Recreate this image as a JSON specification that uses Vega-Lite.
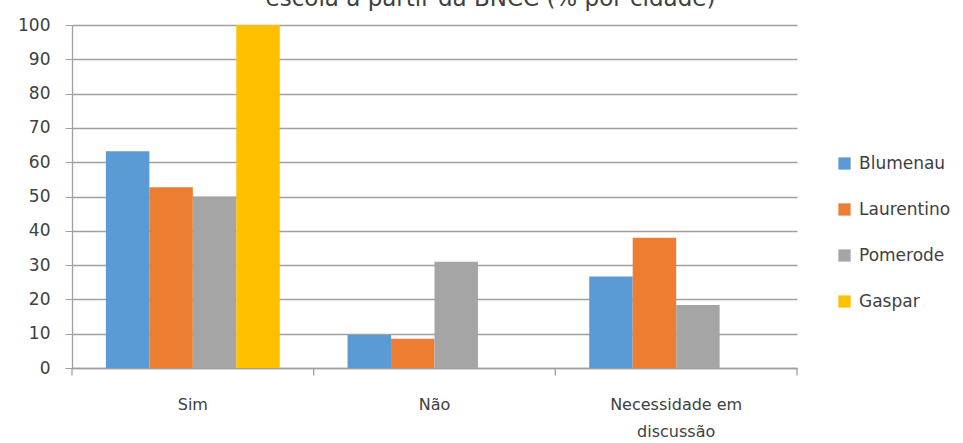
{
  "$schema": "https://vega.github.io/schema/vega-lite/v6.json",
  "width": 725,
  "height": 343,
  "autosize": {"type": "none"},
  "padding": {"left": 72, "top": 25, "right": 166, "bottom": 75},
  "background": "white",
  "title": {
    "text": "escola a partir da BNCC (% por cidade)",
    "fontSize": 23,
    "font": "DejaVu Sans",
    "fontWeight": "normal",
    "color": "#404040",
    "anchor": "middle",
    "offset": 5,
    "dx": 56
  },
  "config": {
    "view": {"stroke": null},
    "font": "DejaVu Sans",
    "axisY": {
      "title": null,
      "tickCount": 11,
      "labelOverlap": false,
      "grid": true,
      "gridColor": "#a0a0a0",
      "gridWidth": 1.3,
      "domainColor": "#a0a0a0",
      "domainWidth": 1.3,
      "tickColor": "#a0a0a0",
      "tickSize": 7,
      "labelPadding": 15,
      "labelFontSize": 17,
      "labelColor": "#404040"
    },
    "axisX": {
      "title": null,
      "ticks": false,
      "grid": false,
      "labelAngle": 0,
      "domainColor": "#a0a0a0",
      "domainWidth": 1.3,
      "labelFontSize": 16,
      "labelColor": "#404040",
      "labelPadding": 28,
      "labelLineHeight": 27
    }
  },
  "datasets": {
    "bars": [
      {"resposta": "Sim", "cidade": "Blumenau", "valor": 63.2},
      {"resposta": "Sim", "cidade": "Laurentino", "valor": 52.7},
      {"resposta": "Sim", "cidade": "Pomerode", "valor": 50},
      {"resposta": "Sim", "cidade": "Gaspar", "valor": 100},
      {"resposta": "Não", "cidade": "Blumenau", "valor": 9.6},
      {"resposta": "Não", "cidade": "Laurentino", "valor": 8.5},
      {"resposta": "Não", "cidade": "Pomerode", "valor": 31},
      {"resposta": "Não", "cidade": "Gaspar", "valor": 0},
      {"resposta": "Necessidade em discussão", "cidade": "Blumenau", "valor": 26.7},
      {"resposta": "Necessidade em discussão", "cidade": "Laurentino", "valor": 38},
      {"resposta": "Necessidade em discussão", "cidade": "Pomerode", "valor": 18.4},
      {"resposta": "Necessidade em discussão", "cidade": "Gaspar", "valor": 0}
    ],
    "ticksStart": [
      {"resposta": "Sim"},
      {"resposta": "Não"},
      {"resposta": "Necessidade em discussão"}
    ],
    "ticksEnd": [
      {"resposta": "Necessidade em discussão"}
    ]
  },
  "layer": [
    {
      "data": {"name": "bars"},
      "mark": {"type": "bar"},
      "encoding": {
        "x": {
          "field": "resposta",
          "type": "nominal",
          "sort": ["Sim", "Não", "Necessidade em discussão"],
          "scale": {"paddingInner": 0, "paddingOuter": 0},
          "axis": {
            "labelExpr": "datum.label == 'Necessidade em discussão' ? ['Necessidade em', 'discussão'] : datum.label"
          }
        },
        "xOffset": {
          "field": "cidade",
          "type": "nominal",
          "sort": ["Blumenau", "Laurentino", "Pomerode", "Gaspar"],
          "scale": {"paddingInner": 0, "paddingOuter": 0.78}
        },
        "y": {
          "field": "valor",
          "type": "quantitative",
          "scale": {"domain": [0, 100], "nice": false},
          "axis": {"values": [0, 10, 20, 30, 40, 50, 60, 70, 80, 90, 100]}
        },
        "color": {
          "field": "cidade",
          "type": "nominal",
          "scale": {
            "domain": ["Blumenau", "Laurentino", "Pomerode", "Gaspar"],
            "range": ["#5B9BD5", "#ED7D31", "#A5A5A5", "#FFC000"]
          },
          "legend": {
            "title": null,
            "orient": "none",
            "legendX": 764,
            "legendY": 130,
            "symbolType": "square",
            "symbolSize": 150,
            "symbolStrokeWidth": 0,
            "labelFontSize": 17,
            "labelColor": "#404040",
            "labelOffset": 6,
            "rowPadding": 28
          }
        }
      }
    },
    {
      "data": {"name": "ticksStart"},
      "mark": {"type": "rule", "color": "#a0a0a0", "strokeWidth": 1.3},
      "encoding": {
        "x": {"field": "resposta", "type": "nominal", "sort": ["Sim", "Não", "Necessidade em discussão"], "bandPosition": 0,
          "axis": {"labelExpr": "datum.label == 'Necessidade em discussão' ? ['Necessidade em', 'discussão'] : datum.label"}},
        "y": {"datum": 0, "type": "quantitative", "axis": {"values": [0, 10, 20, 30, 40, 50, 60, 70, 80, 90, 100]}},
        "y2": {"datum": -2.2}
      }
    },
    {
      "data": {"name": "ticksEnd"},
      "mark": {"type": "rule", "color": "#a0a0a0", "strokeWidth": 1.3},
      "encoding": {
        "x": {"field": "resposta", "type": "nominal", "sort": ["Sim", "Não", "Necessidade em discussão"], "bandPosition": 1,
          "axis": {"labelExpr": "datum.label == 'Necessidade em discussão' ? ['Necessidade em', 'discussão'] : datum.label"}},
        "y": {"datum": 0, "type": "quantitative", "axis": {"values": [0, 10, 20, 30, 40, 50, 60, 70, 80, 90, 100]}},
        "y2": {"datum": -2.2}
      }
    }
  ]
}
